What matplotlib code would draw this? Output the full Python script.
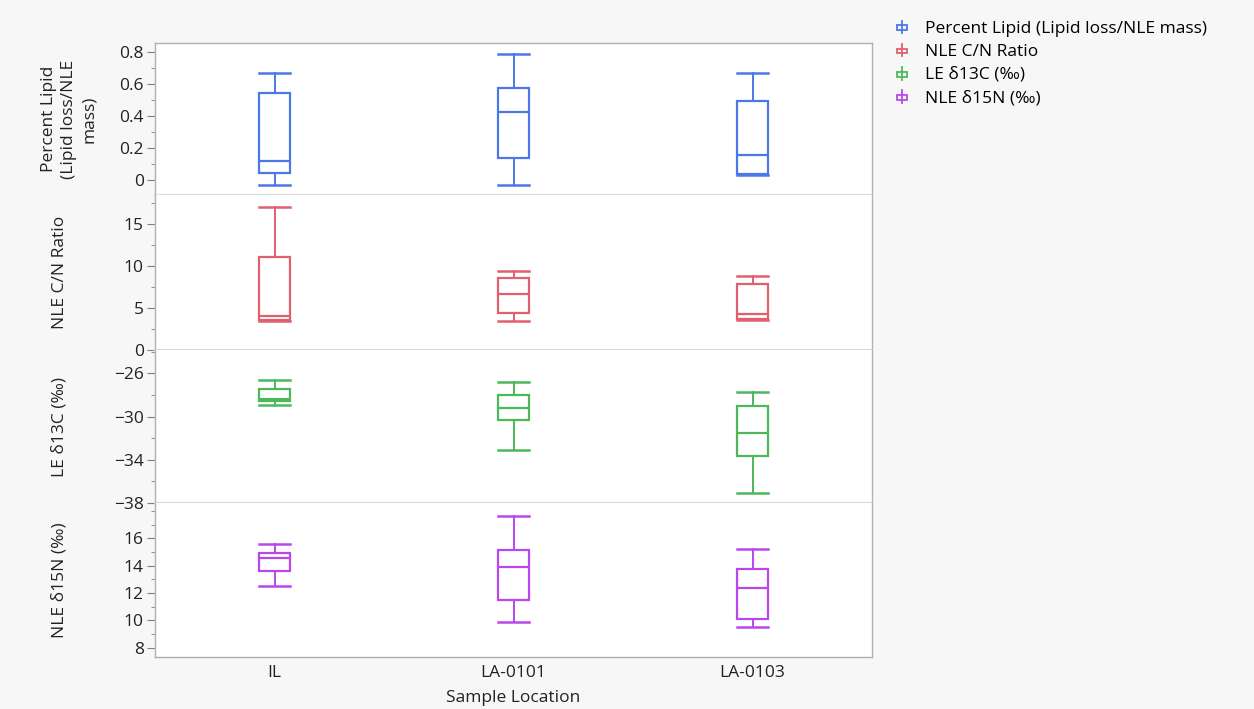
import numpy as np
import matplotlib.pyplot as plt
from matplotlib.patches import Rectangle
from matplotlib.lines import Line2D
from matplotlib.legend_handler import HandlerBase
from matplotlib.ticker import MultipleLocator

plt.rcParams['font.family'] = ['Open Sans', 'DejaVu Sans']

locations = ["IL", "LA-0101", "LA-0103"]

# box stats: whisker low, q1, median, q3, whisker high
lipid_lo = [-0.03, -0.03, 0.028]
lipid_q1 = [0.046, 0.135, 0.035]
lipid_med = [0.116, 0.426, 0.156]
lipid_q3 = [0.547, 0.574, 0.494]
lipid_hi = [0.67, 0.79, 0.67]

cn_lo = [3.5, 3.5, 3.55]
cn_q1 = [3.6, 4.4, 3.7]
cn_med = [4.0, 6.67, 4.24]
cn_q3 = [11.07, 8.6, 7.83]
cn_hi = [17.07, 9.4, 8.8]

c13_lo = [-28.9, -33.1, -37.04]
c13_q1 = [-28.58, -30.34, -33.66]
c13_med = [-28.33, -29.17, -31.49]
c13_q3 = [-27.40, -28.02, -29.01]
c13_hi = [-26.65, -26.81, -27.71]

n15_lo = [12.49, 9.85, 9.51]
n15_q1 = [13.63, 11.49, 10.1]
n15_med = [14.56, 13.88, 12.36]
n15_q3 = [14.92, 15.12, 13.75]
n15_hi = [15.6, 17.65, 15.24]

panel_names = ["Percent Lipid (Lipid loss/NLE mass)", "NLE C/N Ratio",
               "LE δ13C (‰)", "NLE δ15N (‰)"]
axis_labels = ["Percent Lipid\n(Lipid loss/NLE\nmass)", "NLE C/N Ratio",
               "LE δ13C (‰)", "NLE δ15N (‰)"]
colors = ["#4a78e6", "#e0606e", "#4cb85a", "#b848ee"]

lipid_ticks = [0, 0.2, 0.4, 0.6, 0.8]
lipid_ticklabels = ["0", "0.2", "0.4", "0.6", "0.8"]
cn_ticks = [0, 5, 10, 15]
c13_ticks = [-38, -34, -30, -26]
n15_ticks = [8, 10, 12, 14, 16]

panels = [
    (lipid_lo, lipid_q1, lipid_med, lipid_q3, lipid_hi),
    (cn_lo, cn_q1, cn_med, cn_q3, cn_hi),
    (c13_lo, c13_q1, c13_med, c13_q3, c13_hi),
    (n15_lo, n15_q1, n15_med, n15_q3, n15_hi),
]
ticks = [lipid_ticks, cn_ticks, c13_ticks, n15_ticks]
ticklabels = [lipid_ticklabels, None, None, None]
ylims = [(-0.094, 0.857), (0, 18.5), (-38, -23.83), (7.32, 18.58)]
minor = [0.1, 2.5, 2, 1]
label_x = [-0.12, -0.133, -0.133, -0.133]

fig = plt.figure(figsize=(12.54, 7.09), dpi=100, facecolor="#f7f7f7")
gs = fig.add_gridspec(4, 1, left=0.1236, right=0.6954, top=0.9394, bottom=0.0733,
                      hspace=0, height_ratios=[152, 155, 153, 154])

fs = 12.5
axes = []
for i, (lo, q1, med, q3, hi) in enumerate(panels):
    ax = fig.add_subplot(gs[i])
    axes.append(ax)
    stats = []
    for j in range(len(locations)):
        stats.append({"whislo": lo[j], "q1": q1[j], "med": med[j],
                      "q3": q3[j], "whishi": hi[j], "fliers": []})
    c = colors[i]
    ax.bxp(stats, positions=range(len(locations)), widths=0.13, capwidths=0.13,
           showfliers=False, patch_artist=True,
           boxprops=dict(facecolor="white", edgecolor=c, linewidth=1.6),
           medianprops=dict(color=c, linewidth=1.6),
           whiskerprops=dict(color=c, linewidth=1.4),
           capprops=dict(color=c, linewidth=1.8))
    ax.set_xlim(-0.5, 2.5)
    ax.set_ylim(*ylims[i])
    ax.set_yticks(ticks[i])
    if ticklabels[i] is not None:
        ax.set_yticklabels(ticklabels[i])
    ax.yaxis.set_minor_locator(MultipleLocator(minor[i]))
    ax.tick_params(axis="y", which="major", length=6, color="#808080",
                   labelsize=fs, labelcolor="#222222", pad=2)
    ax.tick_params(axis="y", which="minor", length=3, color="#808080")
    ax.set_ylabel(axis_labels[i], fontsize=fs, color="#222222",
                  va="center", ha="center", linespacing=1.3)
    ax.yaxis.set_label_coords(label_x[i], 0.5)
    for s in ax.spines.values():
        s.set_color("#b0b0b0")
        s.set_linewidth(1.0)
    if i < 3:
        ax.tick_params(axis="x", which="both", bottom=False, labelbottom=False)
        ax.spines["bottom"].set_color("#d8d8d8")
        ax.spines["bottom"].set_linewidth(1.5)
    else:
        ax.set_xticks(range(len(locations)))
        ax.set_xticklabels(locations, fontsize=fs, color="#222222")
        ax.tick_params(axis="x", length=0, pad=6)
        ax.set_xlabel("Sample Location", fontsize=fs, color="#222222", labelpad=6)
    if i > 0:
        ax.spines["top"].set_visible(False)


class BoxHandler(HandlerBase):
    def create_artists(self, legend, orig, xd, yd, width, height, fontsize, trans):
        c = orig.get_color()
        cx = width * 0.4 - xd
        bw, bh = width * 0.5, height * 0.4
        y0 = height * 0.2 - yd
        rect = Rectangle((cx - bw / 2, y0), bw, bh, fill=False,
                         edgecolor=c, linewidth=1.3, transform=trans)
        stem = Line2D([cx, cx], [height * -0.05 - yd, height * 0.95 - yd], color=c,
                      linewidth=1.3, transform=trans)
        return [rect, stem]


handles = [Line2D([], [], color=c) for c in colors]
fig.legend(handles, panel_names, loc="upper left", bbox_to_anchor=(0.7, 0.993),
           frameon=False, fontsize=fs, handler_map={Line2D: BoxHandler()},
           handlelength=1.2, handletextpad=0.6, labelspacing=0.4)

fig.savefig("out.png", dpi=100, facecolor=fig.get_facecolor())
